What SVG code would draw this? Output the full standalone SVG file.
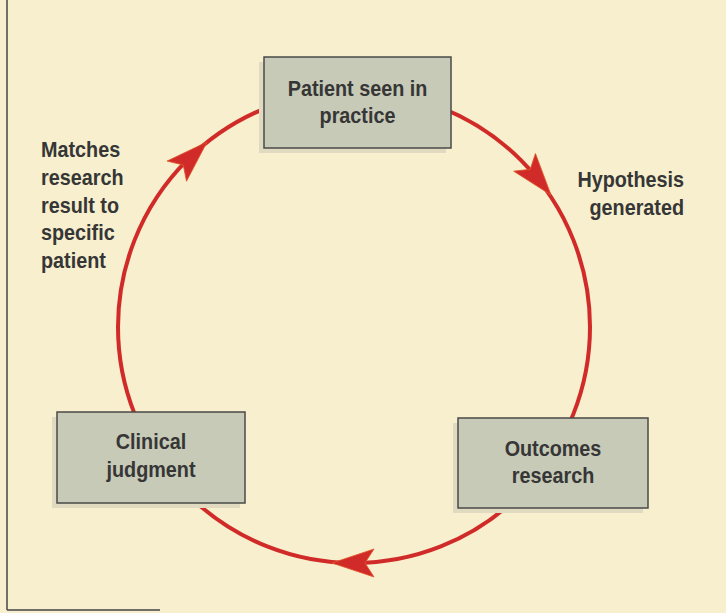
<svg xmlns="http://www.w3.org/2000/svg" width="726" height="613" viewBox="0 0 726 613">
  <style>
    .lbl { font-family: "Liberation Sans", Arial, sans-serif; font-weight: bold; font-size: 22px; fill: #363636; }
    .box { fill: #c6cab6; stroke: #4a4a48; stroke-width: 1.5; }
    .shadow { fill: #e0dac0; }
    .ring { fill: none; stroke: #d12b29; stroke-width: 4; }
    .head { fill: #d12b29; stroke: #e0552a; stroke-width: 0.8; }
  </style>
  <defs>
    <path id="ah" d="M0,0 L-42,-14 L-33,0 L-42,14 Z"/>
  </defs>
  <rect x="0" y="0" width="726" height="613" fill="#f7efcd"/>
  <line x1="7" y1="0" x2="7" y2="610" stroke="#444" stroke-width="1.5"/>
  <line x1="7" y1="610" x2="160" y2="610" stroke="#444" stroke-width="1.5"/>

  <g id="connectors">
    <circle class="ring" cx="354" cy="327" r="236"/>
    <use href="#ah" class="head" transform="translate(551,195) rotate(51)"/>
    <use href="#ah" class="head" transform="translate(332,563) rotate(180)"/>
    <use href="#ah" class="head" transform="translate(207,142) rotate(-44)"/>
  </g>

  <g id="patient">
    <rect class="shadow" x="259" y="62" width="187" height="91"/>
    <rect class="box" x="264" y="57" width="187" height="91"/>
    <text class="lbl" transform="translate(357.5,96) scale(0.9,1)" text-anchor="middle">Patient seen in</text>
    <text class="lbl" transform="translate(357.5,123) scale(0.9,1)" text-anchor="middle">practice</text>
  </g>

  <g id="hypothesis">
    <text class="lbl" transform="translate(684,187) scale(0.9,1)" text-anchor="end">Hypothesis</text>
    <text class="lbl" transform="translate(684,215) scale(0.9,1)" text-anchor="end">generated</text>
  </g>

  <g id="outcomes">
    <rect class="shadow" x="453" y="423" width="190" height="90"/>
    <rect class="box" x="458" y="418" width="190" height="90"/>
    <text class="lbl" transform="translate(553,456) scale(0.9,1)" text-anchor="middle">Outcomes</text>
    <text class="lbl" transform="translate(553,483) scale(0.9,1)" text-anchor="middle">research</text>
  </g>

  <g id="clinical">
    <rect class="shadow" x="52" y="417" width="188" height="91"/>
    <rect class="box" x="57" y="412" width="188" height="91"/>
    <text class="lbl" transform="translate(151,449) scale(0.9,1)" text-anchor="middle">Clinical</text>
    <text class="lbl" transform="translate(151,477) scale(0.9,1)" text-anchor="middle">judgment</text>
  </g>

  <g id="matches">
    <text class="lbl" transform="translate(41,157) scale(0.9,1)">Matches</text>
    <text class="lbl" transform="translate(41,185) scale(0.9,1)">research</text>
    <text class="lbl" transform="translate(41,213) scale(0.9,1)">result to</text>
    <text class="lbl" transform="translate(41,240) scale(0.9,1)">specific</text>
    <text class="lbl" transform="translate(41,268) scale(0.9,1)">patient</text>
  </g>
</svg>
